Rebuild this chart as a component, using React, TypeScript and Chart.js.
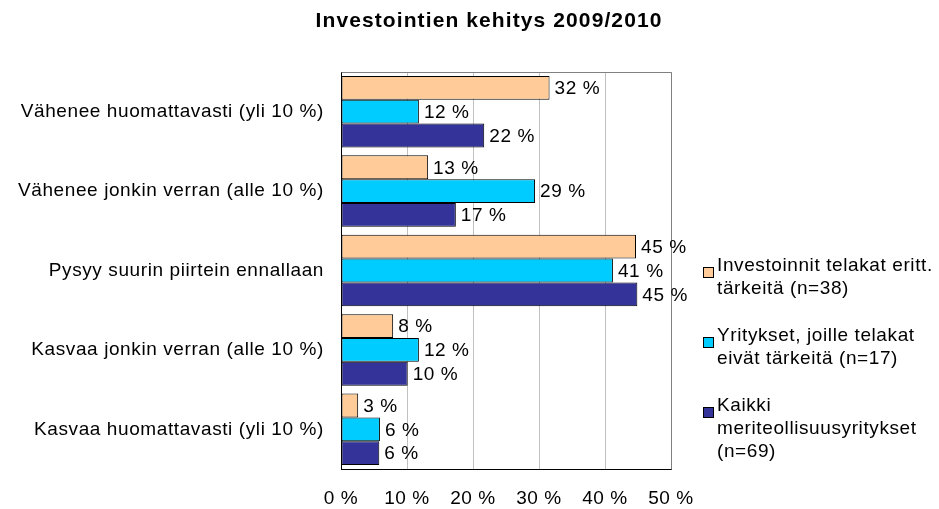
import React, { useEffect, useRef } from 'react';
import { Chart, registerables } from 'chart.js';

Chart.register(...registerables);

const chartTitle = 'Investointien kehitys 2009/2010';
const categories = [
  'Vähenee huomattavasti (yli 10 %)',
  'Vähenee jonkin verran (alle 10 %)',
  'Pysyy suurin piirtein ennallaan',
  'Kasvaa jonkin verran (alle 10 %)',
  'Kasvaa huomattavasti (yli 10 %)',
];
const telakatTarkeita = [31.6, 13.2, 44.7, 7.9, 2.6];
const eivatTarkeita = [11.8, 29.4, 41.2, 11.8, 5.9];
const kaikkiYritykset = [21.7, 17.4, 44.9, 10.1, 5.8];
const seriesLabels = [
  ['Investoinnit telakat eritt.', 'tärkeitä (n=38)'],
  ['Yritykset, joille telakat', 'eivät tärkeitä (n=17)'],
  ['Kaikki', 'meriteollisuusyritykset', '(n=69)'],
];
const seriesColors = ['#FFCC99', '#00CCFF', '#333399'];
const xTickValues = [0, 10, 20, 30, 40, 50];

const FONT = "'Liberation Sans', Arial, sans-serif";
const SPACING = '0.6px';
const FSIZE = 19;

const spacingPlugin = {
  id: 'spacing',
  beforeDraw(chart: any) {
    (chart.ctx as any).letterSpacing = SPACING;
  },
};

const framePlugin = {
  id: 'frame',
  beforeDatasetsDraw(chart: any) {
    const { ctx, chartArea: a } = chart;
    ctx.save();
    ctx.strokeStyle = '#808080';
    ctx.lineWidth = 1;
    ctx.beginPath();
    ctx.moveTo(Math.round(a.left) + 0.5, Math.round(a.top) + 0.5);
    ctx.lineTo(Math.round(a.right) + 0.5, Math.round(a.top) + 0.5);
    ctx.lineTo(Math.round(a.right) + 0.5, Math.round(a.bottom) + 0.5);
    ctx.stroke();
    ctx.restore();
  },
};

const labelsPlugin = {
  id: 'valueLabels',
  afterDatasetsDraw(chart: any) {
    const { ctx } = chart;
    ctx.save();
    (ctx as any).letterSpacing = SPACING;
    ctx.font = `${FSIZE}px ${FONT}`;
    ctx.fillStyle = '#000';
    ctx.textAlign = 'left';
    ctx.textBaseline = 'middle';
    chart.data.datasets.forEach((ds: any, di: number) => {
      const meta = chart.getDatasetMeta(di);
      meta.data.forEach((el: any, i: number) => {
        const v = ds.data[i];
        ctx.fillText(`${Math.round(v)} %`, el.x + 5, el.y + 1);
      });
    });
    ctx.restore();
  },
};

const titleLegendPlugin = {
  id: 'titleLegend',
  afterDraw(chart: any) {
    const { ctx } = chart;
    ctx.save();
    (ctx as any).letterSpacing = '1.1px';
    ctx.font = `bold 21px ${FONT}`;
    ctx.fillStyle = '#000';
    ctx.textAlign = 'center';
    ctx.textBaseline = 'middle';
    ctx.fillText(chartTitle, 489, 21);

    (ctx as any).letterSpacing = SPACING;
    ctx.font = `${FSIZE}px ${FONT}`;
    ctx.textAlign = 'left';
    const itemTops = [266, 336, 406];
    chart.data.datasets.forEach((ds: any, di: number) => {
      const y0 = itemTops[di];
      ctx.fillStyle = ds.backgroundColor;
      ctx.fillRect(703.5, y0 + 1.5, 10, 10);
      ctx.strokeStyle = '#000';
      ctx.lineWidth = 1;
      ctx.strokeRect(703.5, y0 + 1.5, 10, 10);
      ctx.fillStyle = '#000';
      seriesLabels[di].forEach((line, li) => {
        ctx.fillText(line, 717, y0 + li * 23);
      });
    });
    ctx.restore();
  },
};

export default function App() {
  const ref = useRef<HTMLCanvasElement>(null);
  useEffect(() => {
    if (!ref.current) return;
    const datasets = [telakatTarkeita, eivatTarkeita, kaikkiYritykset].map((d, i) => ({
      label: seriesLabels[i].join(' '),
      data: d,
      backgroundColor: seriesColors[i],
      borderColor: '#000',
      borderWidth: 1,
      borderSkipped: false,
      categoryPercentage: 0.9,
      barPercentage: 1,
    }));
    const chart = new Chart(ref.current, {
      type: 'bar',
      data: { labels: categories, datasets },
      plugins: [spacingPlugin, framePlugin, labelsPlugin, titleLegendPlugin],
      options: {
        indexAxis: 'y',
        responsive: false,
        animation: false,
        devicePixelRatio: 1,
        layout: { padding: { left: 0, right: 268, top: 72, bottom: 0 } },
        plugins: { legend: { display: false }, title: { display: false }, tooltip: { enabled: false } },
        scales: {
          x: {
            min: 0,
            max: 50,
            afterBuildTicks: (s: any) => { s.ticks = xTickValues.map((v) => ({ value: v })); },
            afterFit: (s: any) => { s.height = 40; },
            ticks: {
              callback: (v: any) => `${v} %`,
              color: '#000',
              font: { family: FONT, size: FSIZE },
              padding: 18,
              maxRotation: 0,
            },
            grid: { color: '#C0C0C0', drawTicks: false, lineWidth: 1 },
            border: { color: '#000', width: 1 },
          },
          y: {
            afterFit: (s: any) => { s.width = 341; },
            ticks: {
              color: '#000',
              font: { family: FONT, size: FSIZE },
              padding: 17,
            },
            grid: { display: false, drawTicks: false },
            border: { color: '#000', width: 1 },
          },
        },
      },
    } as any);
    return () => chart.destroy();
  }, []);
  return (
    <div style={{ position: 'absolute', left: 0, top: 0, width: 939, height: 509, background: '#fff' }}>
      <canvas ref={ref} width={939} height={509} />
    </div>
  );
}
